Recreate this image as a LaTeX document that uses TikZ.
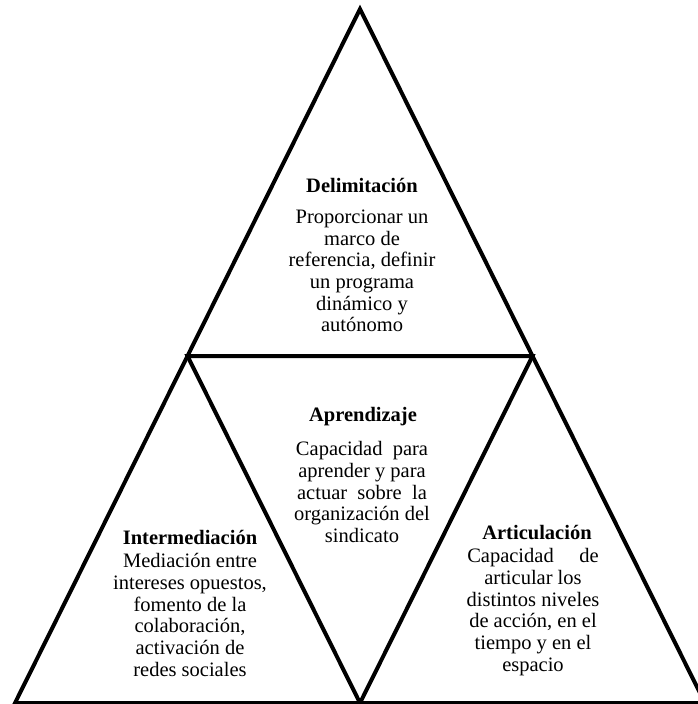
\documentclass[tikz,border=0pt]{standalone}
\usepackage{fontspec}
\setmainfont{Liberation Serif}
\usetikzlibrary{calc}
\tikzset{
  trline/.style={draw=black,line width=2.4pt,line join=miter},
  trtitle/.style={font=\bfseries\fontsize{12.3pt}{13pt}\selectfont,align=center,inner sep=0pt},
  trbody/.style={font=\fontsize{12.3pt}{13pt}\selectfont,align=center,inner sep=0pt}
}
\begin{document}
\begin{tikzpicture}[x=0.6pt,y=-0.6pt]
\useasboundingbox (0,0) rectangle (698,704);

% ---- VERTICES ----
\coordinate (apex) at (360,9);
\coordinate (bl) at (15,703);
\coordinate (br) at (705,703);
\coordinate (ml) at ($(apex)!0.5!(bl)$);
\coordinate (mr) at ($(apex)!0.5!(br)$);
\coordinate (mb) at ($(bl)!0.5!(br)$);

% ---- TRIANGULOS ----
\draw[trline] (apex) -- (bl) -- (br) -- cycle;
\draw[trline] (ml) -- (mr) -- (mb) -- cycle;

% ---- DELIMITACION ----
\node[trtitle] (delim) at (362,185) {Delimitación};
\node[trbody] (delimtxt) at (362,271) {Proporcionar un\\ marco de\\ referencia, definir\\ un programa\\ dinámico y\\ autónomo};

% ---- APRENDIZAJE ----
\node[trtitle] (apren) at (363,417) {Aprendizaje};
\node[trbody] (aprentxt) at (362,492) {Capacidad~~para\\ aprender y para\\ actuar~~sobre~~la\\ organización del\\ sindicato};

% ---- INTERMEDIACION ----
\node[trtitle] (inter) at (190,537) {Intermediación};
\node[trbody] (intertxt) at (190,615) {Mediación entre\\ intereses opuestos,\\ fomento de la\\ colaboración,\\ activación de\\ redes sociales};

% ---- ARTICULACION ----
\node[trtitle] (artic) at (537,532) {Articulación};
\node[trbody] (artictxt) at (533,612) {Capacidad\quad\ de\\ articular los\\ distintos niveles\\ de acción, en el\\ tiempo y en el\\ espacio};

\end{tikzpicture}
\end{document}
